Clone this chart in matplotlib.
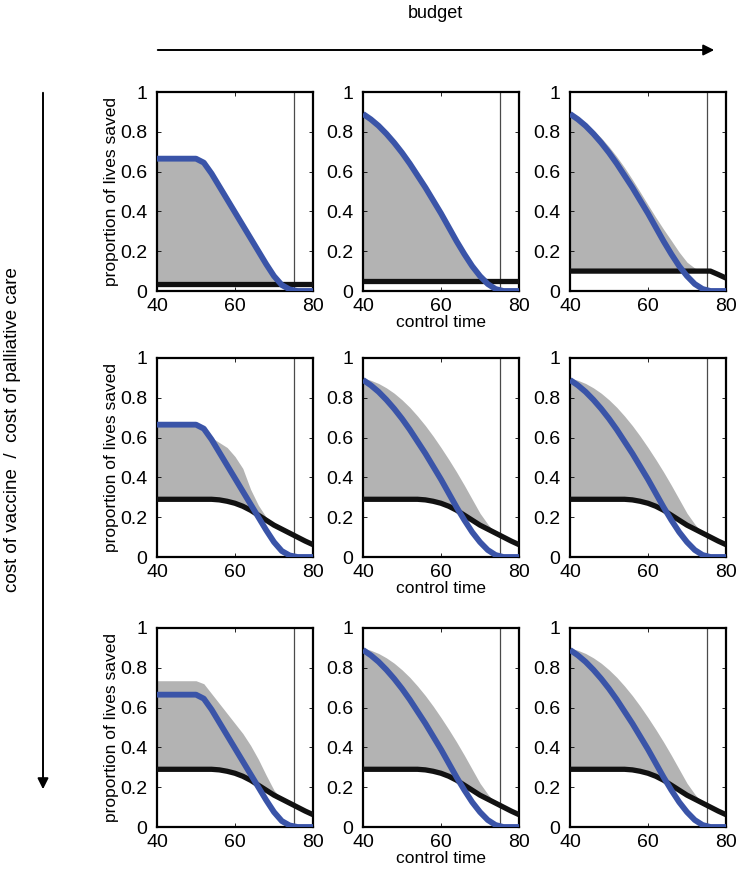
"""3x3 grid: proportion of lives saved vs control time, budget across, cost ratio down."""
import matplotlib
matplotlib.use("Agg")
import matplotlib.pyplot as plt
from matplotlib.patches import FancyArrowPatch

plt.rcParams.update({"font.family": ["Liberation Sans", "DejaVu Sans"], "font.size": 10.5})

# ---------- data ----------
control_time = [40, 42, 44, 46, 48, 50, 52, 54, 56, 58, 60,
                62, 64, 66, 68, 70, 72, 74, 76, 78, 80]

# vaccine-only strategy (blue)
blue_flat = [0.665, 0.665, 0.665, 0.665, 0.665, 0.665, 0.645, 0.59, 0.525, 0.46, 0.395,
             0.33, 0.265, 0.20, 0.135, 0.075, 0.03, 0.008, 0.0, 0.0, 0.0]
blue_smooth = [0.89, 0.863, 0.83, 0.79, 0.745, 0.695, 0.64, 0.58, 0.52, 0.455, 0.39,
               0.32, 0.25, 0.185, 0.125, 0.075, 0.035, 0.01, 0.0, 0.0, 0.0]

# palliative-only strategy (black)
black_low = [0.035] * 21
black_mid = [0.05] * 21
black_top_right = [0.10, 0.10, 0.10, 0.10, 0.10, 0.10, 0.10, 0.10, 0.10, 0.10, 0.10,
                   0.10, 0.10, 0.10, 0.10, 0.10, 0.10, 0.10, 0.10, 0.083, 0.065]
black_decay = [0.29, 0.29, 0.29, 0.29, 0.29, 0.29, 0.29, 0.29, 0.287, 0.28, 0.27,
               0.255, 0.235, 0.21, 0.185, 0.16, 0.14, 0.12, 0.10, 0.08, 0.062]

# upper edge of the grey region (range of mixed strategies)
grey_top_left = [0.665, 0.665, 0.665, 0.665, 0.665, 0.665, 0.645, 0.59, 0.525, 0.46, 0.395,
                 0.33, 0.265, 0.20, 0.135, 0.08, 0.04, 0.035, 0.035, 0.035, 0.035]
grey_top_mid = [0.89, 0.863, 0.83, 0.79, 0.745, 0.695, 0.64, 0.58, 0.52, 0.455, 0.39,
                0.325, 0.26, 0.2, 0.14, 0.09, 0.058, 0.05, 0.05, 0.05, 0.05]
grey_top_right = [0.90, 0.875, 0.845, 0.81, 0.77, 0.725, 0.675, 0.62, 0.56, 0.497, 0.433,
                  0.37, 0.31, 0.253, 0.195, 0.145, 0.115, 0.105, 0.10, 0.083, 0.065]
grey_mid_left = [0.665, 0.665, 0.665, 0.665, 0.665, 0.665, 0.645, 0.60, 0.575, 0.55, 0.505,
                 0.445, 0.34, 0.26, 0.20, 0.16, 0.14, 0.12, 0.10, 0.08, 0.062]
grey_wide = [0.90, 0.888, 0.872, 0.85, 0.823, 0.79, 0.752, 0.708, 0.66, 0.607, 0.55,
             0.49, 0.427, 0.36, 0.29, 0.22, 0.165, 0.12, 0.10, 0.08, 0.062]
grey_bot_left = [0.735, 0.735, 0.735, 0.735, 0.735, 0.735, 0.72, 0.67, 0.62, 0.57, 0.52,
                 0.47, 0.41, 0.34, 0.26, 0.185, 0.14, 0.12, 0.10, 0.08, 0.062]

# one entry per panel, row by row
panels = [
    (blue_flat, black_low, grey_top_left),
    (blue_smooth, black_mid, grey_top_mid),
    (blue_smooth, black_top_right, grey_top_right),
    (blue_flat, black_decay, grey_mid_left),
    (blue_smooth, black_decay, grey_wide),
    (blue_smooth, black_decay, grey_wide),
    (blue_flat, black_decay, grey_bot_left),
    (blue_smooth, black_decay, grey_wide),
    (blue_smooth, black_decay, grey_wide),
]
time_limit = 75

# ---------- layout (pixels of a 737x871 canvas) ----------
W, H = 737, 871
col_left = [157, 363, 570]
row_top = [92, 358, 628]
ax_w, ax_h = 156, 199

fig = plt.figure(figsize=(W / 100, H / 100), dpi=100)

for i, (blue, black, grey) in enumerate(panels):
    r, c = divmod(i, 3)
    ax = fig.add_axes([col_left[c] / W, 1 - (row_top[r] + ax_h) / H, ax_w / W, ax_h / H])
    upper = [max(g, b) for g, b in zip(grey, black)]
    ax.fill_between(control_time, black, upper, color="#b3b3b3", linewidth=0, zorder=1)
    ax.axvline(time_limit, color="#4a4a4a", linewidth=0.9, zorder=2)
    ax.plot(control_time, black, color="#111111", linewidth=3.8, zorder=3,
            solid_capstyle="butt")
    ax.plot(control_time, blue, color="#3a54a8", linewidth=4.2, zorder=4,
            solid_capstyle="butt")
    ax.set_xlim(40, 80)
    ax.set_ylim(0, 1)
    ax.set_xticks([40, 60, 80])
    ax.set_yticks([0, 0.2, 0.4, 0.6, 0.8, 1])
    ax.set_yticklabels(["0", "0.2", "0.4", "0.6", "0.8", "1"])
    ax.tick_params(direction="in", length=3, width=0.6, top=True, right=True,
                   labelsize=14)
    ax.tick_params(axis="y", pad=7)
    ax.tick_params(axis="x", pad=5)
    for s in ax.spines.values():
        s.set_linewidth(1.6)
    if c == 0:
        ax.set_ylabel("proportion of lives saved", fontsize=12.5, labelpad=1)
    if c == 1:
        ax.set_xlabel("control time", fontsize=12.5, labelpad=0)

# ---------- budget / cost arrows ----------
fig.add_artist(FancyArrowPatch((155 / W, 1 - 50 / H), (717 / W, 1 - 50 / H),
                               transform=fig.transFigure, arrowstyle="-|>",
                               mutation_scale=16, color="black", linewidth=1.4))
fig.text(435 / W, 1 - 13 / H, "budget", ha="center", va="center", fontsize=13)

fig.add_artist(FancyArrowPatch((43 / W, 1 - 90 / H), (43 / W, 1 - 792 / H),
                               transform=fig.transFigure, arrowstyle="-|>",
                               mutation_scale=16, color="black", linewidth=1.4))
fig.text(13 / W, 1 - 430 / H, "cost of vaccine  /  cost of palliative care",
         ha="center", va="center", rotation=90, fontsize=13.5)

fig.savefig("out.png", dpi=100, facecolor="white")
